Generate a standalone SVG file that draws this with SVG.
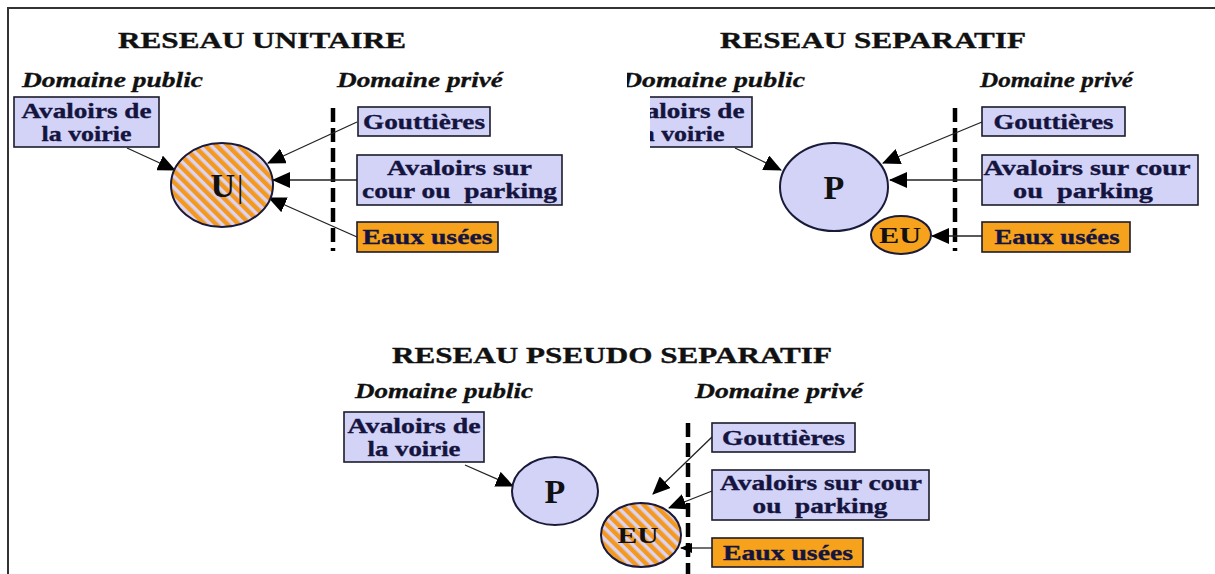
<svg xmlns="http://www.w3.org/2000/svg" width="1215" height="574" viewBox="0 0 1215 574">
<style>
.title{font-family:"Liberation Serif",serif;font-weight:bold;font-size:23px;fill:#111;stroke:#111;stroke-width:0.35}
.dom{font-family:"Liberation Serif",serif;font-weight:bold;font-style:italic;font-size:20.5px;fill:#111;stroke:#111;stroke-width:0.3}
.bt{font-family:"Liberation Serif",serif;font-weight:bold;font-size:20.5px;fill:#14143f;stroke:#14143f;stroke-width:0.35;text-anchor:middle;white-space:pre}
.box{fill:#d3d3f7;stroke:#1c1c2c;stroke-width:1.6}
.obox{fill:#f6a21c;stroke:#1c1c2c;stroke-width:1.6}
.pe{fill:#d3d3f7;stroke:#1a1a3a;stroke-width:2}
.se{fill:url(#stripes);stroke:#1a1a3a;stroke-width:2}
.oe{fill:#f6a21c;stroke:#1a1a3a;stroke-width:2}
.big{font-family:"Liberation Serif",serif;font-weight:bold;font-size:34px;fill:#111;text-anchor:middle}
.eu{font-family:"Liberation Serif",serif;font-weight:bold;font-size:24px;fill:#111;text-anchor:middle}
.dash{stroke:#000;stroke-width:4.5;stroke-dasharray:14 6;fill:none}
.con line{stroke:#222;stroke-width:1.3;marker-end:url(#ah)}
</style>
<defs>
<pattern id="stripes" patternUnits="userSpaceOnUse" width="8" height="8" patternTransform="rotate(-45)">
<rect x="0" y="0" width="8" height="8" fill="#dcd4f2"/>
<rect x="0" y="0" width="4.5" height="8" fill="#f4991f"/>
</pattern>
<marker id="ah" markerUnits="userSpaceOnUse" markerWidth="18" markerHeight="16" refX="17" refY="8" orient="auto">
<path d="M0,0 L18,8 L0,16 z" fill="#000"/>
</marker>
<marker id="ahs" markerUnits="userSpaceOnUse" markerWidth="12" markerHeight="10" refX="11" refY="5" orient="auto">
<path d="M0,0 L12,5 L0,10 z" fill="#000"/>
</marker>
<clipPath id="clipBox"><rect x="650" y="90" width="200" height="70"/></clipPath>
<clipPath id="clipDom"><rect x="627" y="60" width="200" height="40"/></clipPath>
</defs>
<rect x="0" y="0" width="1215" height="574" fill="#fff"/>
<!-- frame -->
<path d="M8,574 L8,8 L1215,8" fill="none" stroke="#333" stroke-width="2"/>

<!-- titles and domain labels -->
<g id="labels">
<text class="title" x="118" y="48" textLength="288" lengthAdjust="spacingAndGlyphs">RESEAU UNITAIRE</text>
<text class="dom" x="22" y="87" textLength="181" lengthAdjust="spacingAndGlyphs">Domaine public</text>
<text class="dom" x="337" y="87" textLength="166" lengthAdjust="spacingAndGlyphs">Domaine privé</text>
<text class="title" x="720" y="48" textLength="306" lengthAdjust="spacingAndGlyphs">RESEAU SEPARATIF</text>
<g clip-path="url(#clipDom)"><text class="dom" x="622" y="87" textLength="183" lengthAdjust="spacingAndGlyphs">Domaine public</text></g>
<text class="dom" x="980" y="87" textLength="153" lengthAdjust="spacingAndGlyphs">Domaine privé</text>
<text class="title" x="392" y="363" textLength="440" lengthAdjust="spacingAndGlyphs">RESEAU PSEUDO SEPARATIF</text>
<text class="dom" x="355" y="398" textLength="178" lengthAdjust="spacingAndGlyphs">Domaine public</text>
<text class="dom" x="695" y="398" textLength="168" lengthAdjust="spacingAndGlyphs">Domaine privé</text>
</g>

<!-- property limits -->
<g id="limits">
<line class="dash" x1="333" y1="108" x2="333" y2="251"/>
<line class="dash" x1="955" y1="108" x2="955" y2="251"/>
<line class="dash" x1="688" y1="423" x2="688" y2="574"/>
</g>

<!-- connectors -->
<g id="connectors" class="con">
<line x1="127" y1="148" x2="175" y2="170"/>
<line x1="357" y1="122" x2="268" y2="163"/>
<line x1="357" y1="180" x2="273" y2="180"/>
<line x1="357" y1="237" x2="269" y2="198"/>
<line x1="735" y1="148" x2="781" y2="170"/>
<line x1="982" y1="122" x2="883" y2="163"/>
<line x1="982" y1="180" x2="890" y2="180"/>
<line x1="982" y1="236" x2="932" y2="236"/>
<line x1="465" y1="465" x2="513" y2="486"/>
<line x1="712" y1="437" x2="653" y2="494"/>
<line x1="712" y1="491" x2="669" y2="508"/>
<line x1="712" y1="548" x2="681" y2="548" style="marker-end:url(#ahs)"/>
</g>

<!-- Réseau unitaire -->
<g id="u-avaloirs-voirie">
<rect class="box" x="14" y="97" width="145" height="50"/>
<text class="bt" x="86.5" y="118" textLength="130" lengthAdjust="spacingAndGlyphs">Avaloirs de</text>
<text class="bt" x="86.5" y="141" textLength="90" lengthAdjust="spacingAndGlyphs">la voirie</text>
</g>
<g id="u-collecteur">
<ellipse class="se" cx="222" cy="185" rx="51" ry="42"/>
<text class="big" x="227" y="197">U<tspan font-weight="normal" font-size="32" dx="2">|</tspan></text>
</g>
<g id="u-gouttieres">
<rect class="box" x="358" y="107" width="132" height="29"/>
<text class="bt" x="424" y="129" textLength="122" lengthAdjust="spacingAndGlyphs">Gouttières</text>
</g>
<g id="u-avaloirs-cour">
<rect class="box" x="357" y="155" width="205" height="50"/>
<text class="bt" x="459.5" y="175" textLength="145" lengthAdjust="spacingAndGlyphs">Avaloirs sur</text>
<text class="bt" x="459.5" y="198" textLength="195" lengthAdjust="spacingAndGlyphs">cour ou  parking</text>
</g>
<g id="u-eaux-usees">
<rect class="obox" x="357" y="222" width="141" height="30"/>
<text class="bt" x="427.5" y="244" textLength="130" lengthAdjust="spacingAndGlyphs">Eaux usées</text>
</g>

<!-- Réseau séparatif -->
<g id="s-avaloirs-voirie" clip-path="url(#clipBox)">
<rect class="box" x="607" y="97" width="145" height="50"/>
<text class="bt" x="679.5" y="118" textLength="130" lengthAdjust="spacingAndGlyphs">Avaloirs de</text>
<text class="bt" x="679.5" y="141" textLength="90" lengthAdjust="spacingAndGlyphs">la voirie</text>
</g>
<g id="s-pluvial">
<ellipse class="pe" cx="834" cy="187" rx="54" ry="44"/>
<text class="big" x="834" y="199">P</text>
</g>
<g id="s-eu">
<ellipse class="oe" cx="901" cy="235" rx="30" ry="19"/>
<text class="eu" x="900" y="243" textLength="42" lengthAdjust="spacingAndGlyphs">EU</text>
</g>
<g id="s-gouttieres">
<rect class="box" x="982" y="107" width="143" height="29"/>
<text class="bt" x="1053.5" y="129" textLength="120" lengthAdjust="spacingAndGlyphs">Gouttières</text>
</g>
<g id="s-avaloirs-cour">
<rect class="box" x="982" y="155" width="216" height="50"/>
<text class="bt" x="1087" y="175" textLength="207" lengthAdjust="spacingAndGlyphs">Avaloirs sur cour</text>
<text class="bt" x="1083" y="198" textLength="140" lengthAdjust="spacingAndGlyphs">ou  parking</text>
</g>
<g id="s-eaux-usees">
<rect class="obox" x="982" y="222" width="148" height="30"/>
<text class="bt" x="1057" y="244" textLength="125" lengthAdjust="spacingAndGlyphs">Eaux usées</text>
</g>

<!-- Réseau pseudo séparatif -->
<g id="p-avaloirs-voirie">
<rect class="box" x="344" y="412" width="140" height="50"/>
<text class="bt" x="414" y="433" textLength="133" lengthAdjust="spacingAndGlyphs">Avaloirs de</text>
<text class="bt" x="414" y="456" textLength="93" lengthAdjust="spacingAndGlyphs">la voirie</text>
</g>
<g id="p-pluvial">
<ellipse class="pe" cx="555" cy="491" rx="43" ry="34"/>
<text class="big" x="555" y="503">P</text>
</g>
<g id="p-eu">
<ellipse class="se" cx="641" cy="535" rx="40" ry="32"/>
<text class="eu" x="638" y="543" textLength="41" lengthAdjust="spacingAndGlyphs">EU</text>
</g>
<g id="p-gouttieres">
<rect class="box" x="712" y="423" width="143" height="29"/>
<text class="bt" x="783.5" y="445" textLength="123" lengthAdjust="spacingAndGlyphs">Gouttières</text>
</g>
<g id="p-avaloirs-cour">
<rect class="box" x="712" y="470" width="217" height="50"/>
<text class="bt" x="821" y="490" textLength="202" lengthAdjust="spacingAndGlyphs">Avaloirs sur cour</text>
<text class="bt" x="820" y="513" textLength="135" lengthAdjust="spacingAndGlyphs">ou  parking</text>
</g>
<g id="p-eaux-usees">
<rect class="obox" x="712" y="538" width="151" height="29"/>
<text class="bt" x="788" y="560" textLength="130" lengthAdjust="spacingAndGlyphs">Eaux usées</text>
</g>
</svg>
